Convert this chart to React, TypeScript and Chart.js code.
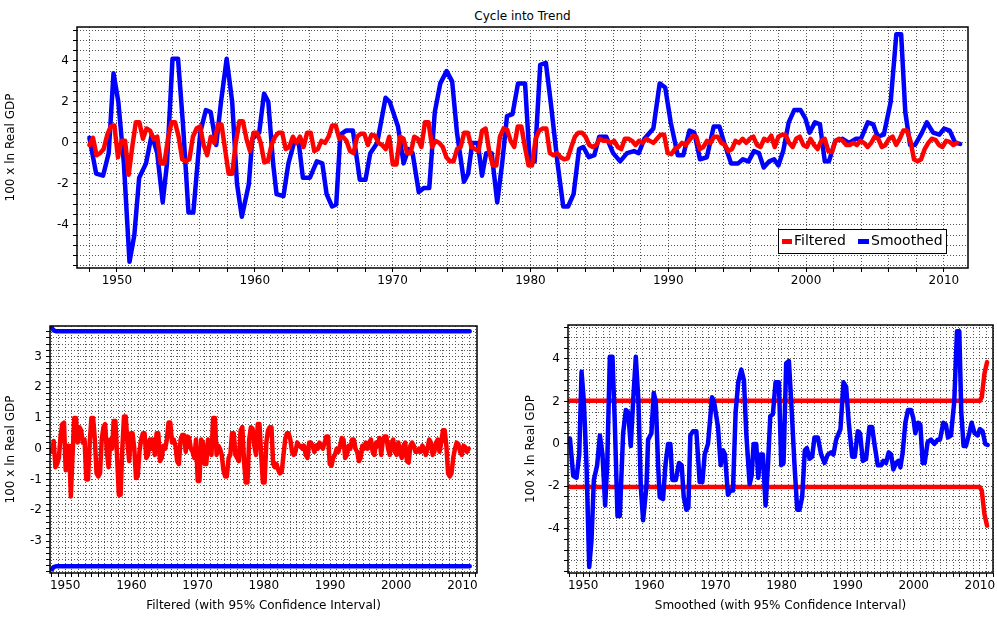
import React, { useEffect, useRef } from "react";
import { Chart, registerables } from "chart.js";
Chart.register(...registerables);

const smoothYears = [1948.0,1948.49,1948.99,1949.4,1949.75,1950.1,1950.5,1950.91,1951.26,1951.61,1952.11,1952.52,1952.92,1953.32,1953.63,1954.03,1954.43,1954.78,1955.19,1955.54,1956.04,1956.45,1956.8,1957.2,1957.55,1957.96,1958.36,1958.71,1959.06,1959.57,1959.82,1960.32,1960.67,1960.98,1961.33,1961.58,1962.08,1962.44,1962.84,1963.19,1963.49,1964.0,1964.5,1964.9,1965.21,1965.61,1965.91,1966.21,1966.62,1967.12,1967.62,1968.03,1968.38,1968.88,1969.49,1969.79,1970.39,1970.8,1971.15,1971.45,1971.9,1972.26,1972.66,1973.06,1973.46,1973.92,1974.32,1974.67,1975.18,1975.48,1975.78,1976.18,1976.49,1976.79,1977.19,1977.59,1977.95,1978.3,1978.7,1979.1,1979.61,1979.96,1980.31,1980.71,1981.12,1981.47,1981.97,1982.38,1982.73,1983.13,1983.53,1983.84,1984.24,1984.64,1984.99,1985.5,1986.0,1986.51,1987.01,1987.51,1987.86,1988.27,1988.92,1989.38,1989.78,1990.18,1990.69,1991.09,1991.54,1991.89,1992.3,1992.8,1993.3,1993.71,1994.06,1994.56,1995.07,1995.42,1995.82,1996.22,1996.58,1996.93,1997.33,1997.68,1997.99,1998.34,1998.74,1999.14,1999.6,1999.95,2000.25,2000.65,2001.01,2001.36,2001.66,2002.12,2002.62,2003.12,2003.63,2003.98,2004.48,2004.88,2005.19,2005.64,2006.14,2006.55,2006.9,2007.2,2007.55,2007.91,2008.41,2008.76,2009.22,2009.67,2010.02,2010.42,2010.83,2011.18];
const smoothVals = [0.25,-1.5,-1.6,-0.5,3.4,2.0,-1,-5.8,-4.5,-1.7,-1,0.4,-0.5,-2.9,-1,4.1,4.1,1,-3.4,-3.4,0.5,1.6,1.5,-0.1,2,4.1,2,-2,-3.6,-2,0.2,0.5,2.4,2.0,-1,-2.5,-2.6,-1,0,0,-1.7,-1.7,-0.9,-1.0,-2.5,-3.1,-3.0,0.4,0.6,0.6,-1.8,-1.8,-0.5,0,2.2,2,0.8,-1.0,-0.3,-0.5,-2.4,-2.2,-2.2,1.5,2.9,3.5,3,0.5,-1.9,-1.5,0,0,-1.6,-0.5,-0.5,-2.9,-1,1.3,1.4,2.9,2.9,-1.0,-0.9,3.8,3.9,2,-1,-3.1,-3.1,-2.5,-0.3,-0.2,-0.7,-0.6,0.3,0.3,-0.5,-0.9,-0.5,-0.4,-0.5,0.2,0.7,2.9,2.7,1.0,-0.6,-0.6,0.6,0.5,-0.8,-0.7,0.8,0.8,0,-1.0,-1,-0.8,-0.9,-0.4,-0.5,-1.2,-0.9,-0.8,-1.1,-0.4,1.0,1.6,1.6,1.2,0.5,1.0,0.9,-0.9,-0.9,0.1,0.2,0,0.2,0.2,1.0,0.9,0.3,0.4,2.0,5.3,5.3,1.5,-0.1,-0.1,0.5,1.0,0.5,0.4,0.7,0.6,0,-0.05];

const filtStart = 1948.0;
const filtEnd = 2010.94;
const filtVals = [-0.1,0.25,-0.6,-0.5,-0.3,0.4,0.8,0.85,-0.7,0.1,0.1,-1.55,-0.2,1.0,1.0,0.2,0.7,0.6,0.2,0.3,-1.0,-1.0,0.2,1.0,1.0,0.3,-0.8,-0.9,-0.8,0.3,0.7,0.8,-0.1,-0.6,0.3,0.0,0.9,0.9,-0.3,-1.5,-1.5,0.0,1.05,1.05,0.2,-0.4,0.5,0.5,0.0,-0.95,-0.9,-0.1,0.3,0.5,0.5,-0.3,-0.2,0.3,0.0,0.3,-0.2,0.5,0.5,-0.4,-0.3,0.1,0.0,0.3,0.85,0.85,0.2,0.3,0.1,-0.4,-0.5,0.3,0.45,0.45,-0.1,0.4,0.35,0.0,-0.1,-0.3,0.3,-1.05,-1.05,0.3,0.2,-0.5,-0.5,0.3,0.2,-0.2,1.0,1.0,-0.2,0.1,0.0,-0.2,-0.7,-0.9,-0.9,-0.3,-0.2,0.5,0.5,-0.2,-0.3,-0.4,0.6,0.7,-0.4,-1.1,-1.1,0.3,0.7,0.65,0.1,-0.2,0.8,0.8,-0.2,-1.1,-1.1,0.2,0.6,0.7,0.7,-0.5,-0.6,-0.5,-0.7,-0.8,-0.75,-0.2,0.3,0.5,0.5,0.3,-0.1,-0.2,-0.1,0.2,0.1,0.1,0.0,0.1,-0.2,-0.3,0.2,0.2,0.1,-0.1,0.1,0.0,0.2,0.1,0.0,0.2,0.4,0.4,-0.5,-0.55,-0.3,-0.2,0.0,-0.1,0.1,0.35,0.3,-0.3,-0.2,0.1,0.0,0.3,0.3,0.0,-0.1,-0.4,-0.3,0.1,0.0,0.2,0.0,0.2,0.3,-0.1,-0.2,0.2,0.1,0.35,-0.2,0.3,0.4,0.4,0.0,-0.2,0.2,0.3,-0.1,-0.2,0.2,-0.1,-0.3,0.1,0.2,-0.4,-0.45,0.1,0.2,0.1,-0.1,-0.1,0.0,-0.1,0.1,0.0,-0.2,0.0,0.3,0.2,-0.2,-0.1,0.2,0.3,-0.1,0.2,0.6,0.6,0.1,-0.8,-0.9,-0.8,-0.3,0.0,0.2,0.15,-0.1,-0.2,0.1,0.05,-0.1,0.0];

const filtCIYears = [1948.0, 1948.25, 1948.6, 2011.1];
const filtCIUpper = [3.92, 3.85, 3.82, 3.82];
const smoothCIYears = [1948.0, 2010.0, 2010.3, 2010.7, 2011.1];
const smoothCIUpper = [2.03, 2.03, 2.2, 3.3, 3.85];

const RED = "#ff0000";
const BLUE = "#0000ff";
const FONT = "'DejaVu Sans', Verdana, sans-serif";

const filtYears = filtVals.map((_, i) => filtStart + (i * (filtEnd - filtStart)) / (filtVals.length - 1));
const pts = (xs: number[], ys: number[]) => xs.map((x, i) => ({ x, y: ys[i] }));

const framePlugin = {
  id: "frame",
  afterDraw(chart: any) {
    const { ctx, chartArea: a } = chart;
    ctx.save();
    ctx.strokeStyle = "#000";
    ctx.lineWidth = 1.5;
    ctx.strokeRect(a.left, a.top, a.right - a.left, a.bottom - a.top);
    ctx.restore();
  },
};

const legendPlugin = {
  id: "boxlegend",
  afterDraw(chart: any) {
    if (!chart.options.plugins.boxlegend?.show) return;
    const { ctx, chartArea: a } = chart;
    const x = a.right - 190, y = a.bottom - 39, w = 168, h = 24;
    ctx.save();
    ctx.fillStyle = "#fff";
    ctx.fillRect(x, y, w, h);
    ctx.strokeStyle = "#000";
    ctx.lineWidth = 1;
    ctx.strokeRect(x + 0.5, y + 0.5, w, h);
    ctx.font = `14px ${FONT}`;
    ctx.textBaseline = "middle";
    ctx.fillStyle = RED;
    ctx.fillRect(x + 4, y + 10, 10, 5);
    ctx.fillStyle = "#000";
    ctx.fillText("Filtered", x + 16, y + 12.5);
    ctx.fillStyle = BLUE;
    ctx.fillRect(x + 80, y + 10, 11, 5);
    ctx.fillStyle = "#000";
    ctx.fillText("Smoothed", x + 93, y + 12.5);
    ctx.restore();
  },
};

type Cfg = {
  datasets: any[];
  xmin: number; xmax: number; xgrid: number;
  ymin: number; ymax: number; ystep: number; ylabelEvery: number; ylabelMax: number;
  yW: number; xH: number; padTop: number; padRight: number;
  xTitle?: string; legend?: boolean;
};

function makeConfig(c: Cfg): any {
  const xticks: number[] = [];
  for (let v = Math.ceil(c.xmin / c.xgrid) * c.xgrid; v <= c.xmax; v += c.xgrid) xticks.push(v);
  const yticks: number[] = [];
  for (let v = Math.ceil(c.ymin / c.ystep - 1e-9) * c.ystep; v <= c.ymax + 1e-9; v += c.ystep) yticks.push(Math.round(v * 100) / 100);
  const grid = { color: "#555", tickLength: 4, tickColor: "#000", drawTicks: true, lineWidth: 1 };
  const border = { display: false, dash: [1, 2] };
  return {
    type: "line",
    data: { datasets: c.datasets },
    options: {
      animation: false,
      responsive: false,
      events: [],
      layout: { padding: { top: c.padTop, right: c.padRight, left: 0, bottom: 0 } },
      plugins: { legend: { display: false }, tooltip: { enabled: false }, title: { display: false }, boxlegend: { show: !!c.legend } },
      elements: { point: { radius: 0 }, line: { tension: 0, borderJoinStyle: "round", borderCapStyle: "round" } },
      scales: {
        x: {
          type: "linear", min: c.xmin, max: c.xmax,
          afterBuildTicks: (s: any) => { s.ticks = xticks.map((v) => ({ value: v })); },
          afterFit: (s: any) => { s.height = c.xH; },
          grid, border,
          ticks: {
            autoSkip: false, maxRotation: 0, color: "#000", padding: 2,
            font: { family: FONT, size: 12 },
            callback: (v: number) => (Math.abs(v % 10) < 1e-6 ? String(v) : ""),
          },
          title: c.xTitle ? { display: true, text: c.xTitle, color: "#000", font: { family: FONT, size: 12 }, padding: { top: 0 } } : { display: false },
        },
        y: {
          type: "linear", min: c.ymin, max: c.ymax,
          afterBuildTicks: (s: any) => { s.ticks = yticks.map((v) => ({ value: v })); },
          afterFit: (s: any) => { s.width = c.yW; },
          grid, border,
          ticks: {
            autoSkip: false, color: "#000", padding: 4,
            font: { family: FONT, size: 12 },
            callback: (v: number) => (Math.abs(v % c.ylabelEvery) < 1e-6 && Math.abs(v) <= c.ylabelMax ? String(Math.round(v)) : ""),
          },
          title: { display: true, text: "100 x ln Real GDP", color: "#000", font: { family: FONT, size: 12 }, padding: { bottom: 2 } },
        },
      },
    },
    plugins: [framePlugin, legendPlugin],
  };
}

function Panel({ left, top, width, height, cfg }: { left: number; top: number; width: number; height: number; cfg: Cfg }) {
  const ref = useRef<HTMLCanvasElement>(null);
  useEffect(() => {
    const ch = new Chart(ref.current as HTMLCanvasElement, makeConfig(cfg));
    return () => ch.destroy();
  }, []);
  return (
    <div style={{ position: "absolute", left, top, width, height }}>
      <canvas ref={ref} width={width} height={height} style={{ width, height, display: "block" }} />
    </div>
  );
}

const line = (data: any[], color: string, w = 4.5) => ({ data, borderColor: color, backgroundColor: color, borderWidth: w, fill: false });

export default function App() {
  const smooth = pts(smoothYears, smoothVals);
  const filt = pts(filtYears, filtVals);
  const fU = pts(filtCIYears, filtCIUpper);
  const fL = pts(filtCIYears, filtCIUpper.map((v) => -v));
  const sU = pts(smoothCIYears, smoothCIUpper);
  const sL = pts(smoothCIYears, smoothCIUpper.map((v) => -v));
  return (
    <div style={{ position: "fixed", left: 0, top: 0, width: 997, height: 617, background: "#fff", overflow: "hidden" }}>
      <div style={{ position: "absolute", left: 77, width: 891, top: 9, textAlign: "center", font: `12px ${FONT}`, color: "#000" }}>Cycle into Trend</div>
      <Panel left={0} top={0} width={997} height={300}
        cfg={{ datasets: [line(filt, RED), line(smooth, BLUE)], xmin: 1947.1, xmax: 2011.75, xgrid: 2,
          ymin: -6.1, ymax: 5.65, ystep: 0.5, ylabelEvery: 2, ylabelMax: 5, yW: 77, xH: 32, padTop: 27, padRight: 29, legend: true }} />
      <Panel left={0} top={300} width={490} height={317}
        cfg={{ datasets: [line(filt, RED), line(fU, BLUE), line(fL, BLUE)], xmin: 1947.7, xmax: 2012.2, xgrid: 1,
          ymin: -4.04, ymax: 3.99, ystep: 0.2, ylabelEvery: 1, ylabelMax: 3, yW: 50, xH: 44, padTop: 26, padRight: 13, xTitle: "Filtered (with 95% Confidence Interval)" }} />
      <Panel left={520} top={300} width={477} height={317}
        cfg={{ datasets: [line(smooth, BLUE), line(sU, RED), line(sL, RED)], xmin: 1947.7, xmax: 2012.0, xgrid: 1,
          ymin: -6.08, ymax: 5.6, ystep: 0.5, ylabelEvery: 2, ylabelMax: 5, yW: 48, xH: 44, padTop: 25, padRight: 4, xTitle: "Smoothed (with 95% Confidence Interval)" }} />
    </div>
  );
}
